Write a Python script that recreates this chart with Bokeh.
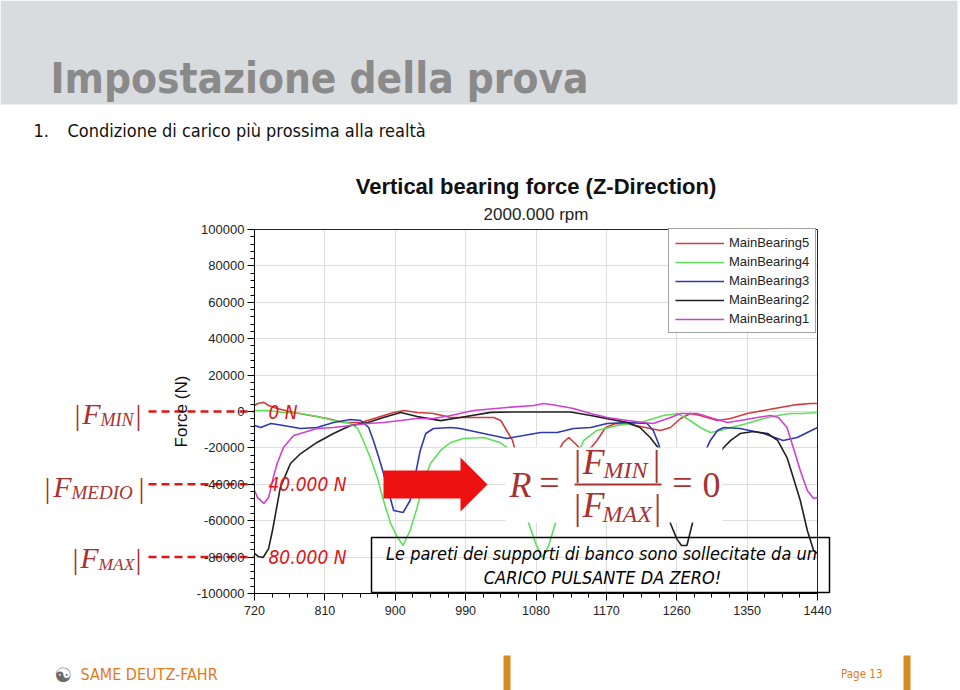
import numpy as np
from bokeh.plotting import figure
from bokeh.models import (Range1d, FixedTicker, Label, Legend, LegendItem, LinearAxis, Grid)
from bokeh.embed import file_html
from bokeh.resources import INLINE

# ---------------- data (crank angle in deg, force in N) ----------------
mb5_deg = [720, 724, 732, 738, 749, 770, 792, 813, 834, 856, 877, 898, 911, 928, 949,
           971, 1000, 1026, 1035, 1041, 1050, 1060, 1075, 1095, 1108, 1115, 1122, 1130,
           1140, 1150, 1158, 1169, 1182, 1201, 1226, 1239, 1252, 1265, 1277, 1290, 1312,
           1329, 1350, 1371, 1392, 1414, 1431, 1440]
mb5_force = [3300, 4400, 5000, 3300, 1650, -550, -2200, -3850, -6050, -6050, -3300, -550,
             550, -550, -1100, -3300, -3300, -3300, -4950, -9350, -15900, -32000, -42000,
             -35000, -22000, -17000, -14300, -17600, -22000, -20000, -15900, -8800, -6600,
             -7150, -9350, -10400, -8800, -3850, -1100, -2200, -4950, -3850, -1100, 550,
             2200, 3800, 4400, 4400]

mb4_deg = [720, 737, 757, 779, 800, 821, 843, 852, 859, 868, 877, 885, 894, 903, 910, 919,
           928, 936, 945, 958, 971, 987, 1013, 1034, 1043, 1055, 1065, 1072, 1080, 1088,
           1096, 1103, 1110, 1120, 1133, 1141, 1158, 1184, 1213, 1222, 1243, 1261, 1277,
           1290, 1303, 1316, 1329, 1350, 1371, 1389, 1405, 1422, 1440]
mb4_force = [550, 550, -550, -1100, -2750, -4950, -6600, -9350, -15900, -25300, -36300,
             -48900, -61500, -69200, -73600, -65400, -52700, -39600, -28600, -21400, -17000,
             -14800, -14300, -17000, -19800, -35000, -55000, -63000, -73000, -80200, -74000,
             -64000, -55000, -40000, -24000, -15900, -10400, -7700, -6050, -4950, -2200,
             -1100, -4950, -8800, -11500, -10400, -8800, -6600, -3850, -2200, -1100, -1100,
             -550]

mb3_deg = [720, 728, 741, 757, 779, 800, 821, 843, 856, 866, 872, 879, 885, 891, 898, 910,
           919, 926, 932, 939, 949, 971, 983, 1013, 1043, 1064, 1086, 1107, 1128, 1150, 1171,
           1197, 1222, 1230, 1237, 1247, 1262, 1280, 1293, 1303, 1312, 1320, 1341, 1371,
           1396, 1414, 1427, 1440]
mb3_force = [-7700, -8800, -6600, -7700, -9350, -8800, -6050, -4400, -4950, -8800, -15900,
             -25300, -34100, -43400, -54400, -55500, -48900, -34100, -21400, -12100, -9350,
             -8800, -9350, -12100, -14800, -13200, -11500, -11500, -9350, -8800, -6600, -6050,
             -6600, -10400, -18000, -35000, -48000, -45000, -25000, -15900, -10400, -8800,
             -9350, -12100, -15900, -14300, -11500, -8800]

mb2_deg = [720, 725, 731, 738, 743, 753, 766, 779, 800, 821, 843, 865, 885, 907, 928, 958,
           983, 1022, 1047, 1124, 1150, 1171, 1197, 1213, 1226, 1239, 1252, 1260, 1266, 1273,
           1280, 1290, 1303, 1316, 1320, 1329, 1341, 1358, 1376, 1389, 1401, 1409, 1418,
           1427, 1435, 1440]
mb2_force = [-78000, -79700, -80200, -75300, -65400, -41800, -28600, -23100, -17000, -12100,
             -7700, -6000, -3300, -500, -2800, -5000, -3300, -500, -300, -300, -2200, -3900,
             -6000, -8800, -14300, -21400, -61500, -70000, -73600, -73600, -61500, -44000,
             -30000, -22000, -19800, -15900, -12100, -11000, -12100, -15900, -25300, -36300,
             -48900, -65400, -76400, -78000]

mb1_deg = [720, 724, 732, 738, 744, 749, 757, 770, 783, 800, 821, 843, 865, 885, 907, 928,
           949, 971, 1000, 1043, 1077, 1090, 1107, 1128, 1150, 1171, 1197, 1217, 1230, 1252,
           1265, 1286, 1307, 1325, 1341, 1363, 1380, 1390, 1401, 1409, 1418, 1427, 1435, 1440]
mb1_force = [-43400, -47300, -50500, -47300, -36300, -28600, -19800, -13200, -11500, -9350,
             -8800, -7700, -6600, -6050, -4950, -3850, -3850, -2200, 550, 2200, 3300, 4400,
             3300, 1650, -1100, -3300, -4950, -6050, -6600, -3300, -1100, -1100, -3850, -6050,
             -4950, -3300, -2200, -3300, -8800, -19800, -32400, -43400, -47800, -47300]

series_names = ["MainBearing5", "MainBearing4", "MainBearing3", "MainBearing2", "MainBearing1"]
x_ticks = [720, 810, 900, 990, 1080, 1170, 1260, 1350, 1440]
y_ticks = [-100000, -80000, -60000, -40000, -20000, 0, 20000, 40000, 60000, 80000, 100000]
y_tick_labels = ["-100000", "-80000", "-60000", "-40000", "-20000", "0",
                 "20000", "40000", "60000", "80000", "100000"]
ref_levels = [0, -40000, -80000]
ref_texts = ["0 N", "40.000 N", "80.000 N"]

# ---------------- layout: the frame fills the whole slide ----------------
W, H = 960, 690
FX0, FX1, FY0, FY1 = 254, 817, 229, 593     # chart plot area in slide pixels
XMIN, XMAX = 720, 1440
YMIN, YMAX = -100000, 100000


def X(px):
    return XMIN + (px - FX0) * (XMAX - XMIN) / (FX1 - FX0)


def Y(py):
    return YMAX - (py - FY0) * (YMAX - YMIN) / (FY1 - FY0)


p = figure(width=W, height=H, output_backend="svg", toolbar_location=None,
           x_range=Range1d(X(0), X(W)), y_range=Range1d(Y(H), Y(0)),
           x_axis_location=None, y_axis_location=None, title_location=None,
           min_border=0, min_border_left=0, min_border_right=0,
           min_border_top=0, min_border_bottom=0)
p.background_fill_color = "white"
p.border_fill_color = "white"
p.outline_line_color = None
p.xgrid.visible = False
p.ygrid.visible = False

x_ticker = FixedTicker(ticks=x_ticks, minor_ticks=list(np.arange(720, 1441, 22.5)))
y_ticker = FixedTicker(ticks=y_ticks, minor_ticks=list(range(-100000, 100001, 4000)))

# grid (inside the chart area only)
p.add_layout(Grid(dimension=0, ticker=x_ticker, bounds=(XMIN, XMAX),
                  cross_bounds=(YMIN, YMAX), grid_line_color="#dddddd"))
p.add_layout(Grid(dimension=1, ticker=y_ticker, bounds=(YMIN, YMAX),
                  cross_bounds=(XMIN, XMAX), grid_line_color="#dddddd"))

xaxis = LinearAxis(ticker=x_ticker, fixed_location=YMIN, bounds=(XMIN, XMAX))
yaxis = LinearAxis(ticker=y_ticker, fixed_location=XMIN, bounds=(YMIN, YMAX),
                   axis_label="Force (N)")
yaxis.major_label_overrides = {t: s for t, s in zip(y_ticks, y_tick_labels)}
for ax in (xaxis, yaxis):
    ax.axis_line_color = "black"
    ax.major_tick_line_color = "black"
    ax.minor_tick_line_color = "black"
    ax.major_tick_in = 0
    ax.major_tick_out = 7
    ax.minor_tick_in = 0
    ax.minor_tick_out = 4
    ax.major_label_text_font = "Liberation Sans"
    ax.major_label_text_color = "#222222"
xaxis.major_label_text_font_size = "12.5px"
yaxis.major_label_text_font_size = "13px"
xaxis.major_label_standoff = 5
yaxis.major_label_standoff = 3
yaxis.axis_label_text_font = "Liberation Sans"
yaxis.axis_label_text_font_size = "17px"
yaxis.axis_label_text_font_style = "normal"
yaxis.axis_label_text_color = "#111111"
yaxis.axis_label_standoff = 3
p.add_layout(xaxis, "below")
p.add_layout(yaxis, "left")

# top / right border of the chart area
p.quad(left=[XMIN], right=[XMAX], bottom=[YMIN], top=[YMAX], fill_color=None,
       line_color="#222222", line_width=1)

colors = ["#d23c3c", "#5fe05a", "#3038b0", "#202020", "#d040d0"]
data = [(mb5_deg, mb5_force), (mb4_deg, mb4_force), (mb3_deg, mb3_force),
        (mb2_deg, mb2_force), (mb1_deg, mb1_force)]
items = []
for name, (xs, ys), c in zip(series_names, data, colors):
    r = p.line(xs, ys, line_color=c, line_width=1.6)
    items.append(LegendItem(label=name, renderers=[r]))

legend = Legend(items=items, location=(668, H - 333), margin=0, padding=6, spacing=4,
                border_line_color="#444444", border_line_width=1,
                background_fill_color="white", background_fill_alpha=1,
                label_text_font="Liberation Sans", label_text_font_size="13px",
                label_text_color="#222222", glyph_width=49, glyph_height=14,
                label_height=14, label_standoff=5)
p.add_layout(legend)

# ---------------- overlays ----------------
FC = "#a83232"   # formula dark red
RED = "#e01515"


def lab(px, py, text, size, color="black", font="Liberation Sans", style="normal",
        align="left", baseline="middle"):
    p.add_layout(Label(x=X(px), y=Y(py), text=text, text_font=font,
                       text_font_size=f"{size}px", text_color=color,
                       text_font_style=style, text_align=align, text_baseline=baseline))


def box(l, r, t, b, fill=None, line=None, lw=1):
    p.quad(left=[X(l)], right=[X(r)], top=[Y(t)], bottom=[Y(b)],
           fill_color=fill, line_color=line, line_width=lw)


# white background of the formula picture
box(505, 722, 447, 522, fill="white")

# red arrow
arrow_px = [383, 460, 460, 487, 460, 460, 383]
arrow_py = [470, 470, 457, 484, 511, 498, 498]
p.patch([X(v) for v in arrow_px], [Y(v) for v in arrow_py], fill_color="#ee1111",
        line_color=None)

# formula R = |F_MIN| / |F_MAX| = 0
SER = "Liberation Serif"
lab(520, 484, "R", 36, FC, SER, "italic", "center")
lab(549, 482, "=", 36, FC, SER, "normal", "center")
p.segment(x0=[X(574)], y0=[Y(484)], x1=[X(661)], y1=[Y(484)], line_color=FC, line_width=2)
lab(577, 462, "|", 36, FC, SER, "normal", "center")
lab(593, 461, "F", 36, FC, SER, "italic", "center")
lab(603, 469, "MIN", 24, FC, SER, "italic", "left")
lab(656, 462, "|", 36, FC, SER, "normal", "center")
lab(577, 506, "|", 36, FC, SER, "normal", "center")
lab(593, 504, "F", 36, FC, SER, "italic", "center")
lab(602, 513, "MAX", 24, FC, SER, "italic", "left")
lab(657, 506, "|", 36, FC, SER, "normal", "center")
lab(682, 482, "=", 36, FC, SER, "normal", "center")
lab(711, 484, "0", 36, FC, SER, "normal", "center")

# left |F| labels with dashed reference lines
left_specs = [  # bar1, F, sub_left, sub_text, bar2, y, sub size
    (77, 91, 100, "MIN", 138, 413, 18),
    (47, 62, 71, "MEDIO", 141, 486, 19),
    (75, 89, 98, "MAX", 138, 557, 17.5),
]
for (b1, fx, sx, sub, b2, py, ss), lvl, txt in zip(left_specs, ref_levels, ref_texts):
    lab(b1, py + 1, "|", 30, FC, SER, "normal", "center")
    lab(fx, py, "F", 30, FC, SER, "italic", "center")
    lab(sx, py + 6, sub, ss, FC, SER, "italic", "left")
    lab(b2, py + 1, "|", 30, FC, SER, "normal", "center")
    p.line([X(148), X(253)], [lvl, lvl], line_color=RED, line_width=2.5, line_dash="8 5")
    p.add_layout(Label(x=X(268), y=lvl, text=txt, text_font="DejaVu Sans Condensed",
                       text_font_size="19px", text_font_style="italic", text_color=RED,
                       text_baseline="middle"))

# text box
box(371, 829, 537, 592, fill=None, line="black", lw=1.5)
lab(601, 553, "Le pareti dei supporti di banco sono sollecitate da un", 18, "black",
    "DejaVu Sans Condensed", "italic", "center")
lab(602, 577, "CARICO PULSANTE DA ZERO!", 18, "black", "DejaVu Sans Condensed",
    "italic", "center")

# chart titles
lab(535.5, 186, "Vertical bearing force (Z-Direction)", 22, "#111111", "Liberation Sans",
    "bold", "center")
lab(535.5, 214, "2000.000 rpm", 17, "#222222", "Liberation Sans", "normal", "center")

# slide header
box(0, 957, 0, 104, fill="#d9dcdf")
lab(50, 78, "Impostazione della prova", 42, "#8a8a8a", "DejaVu Sans Condensed", "bold",
    "left", "alphabetic")
lab(33, 130, "1.", 18, "#111111", "DejaVu Sans Condensed")
lab(67, 130, "Condizione di carico più prossima alla realtà", 18, "#111111",
    "DejaVu Sans Condensed")

# footer
ORANGE = "#e07a1f"
lab(63, 674, "☯", 20, "#6a6a6a", "DejaVu Sans", "normal", "center")
lab(80, 674, "SAME DEUTZ-FAHR", 16, ORANGE, "DejaVu Sans Condensed")
box(503, 510, 655, 690, fill="#d98a1e")
box(903, 910, 655, 690, fill="#d98a1e")
lab(882, 673, "Page 13", 11.5, ORANGE, "DejaVu Sans Condensed", "normal", "right")

open("out.html", "w").write(file_html(p, INLINE))
